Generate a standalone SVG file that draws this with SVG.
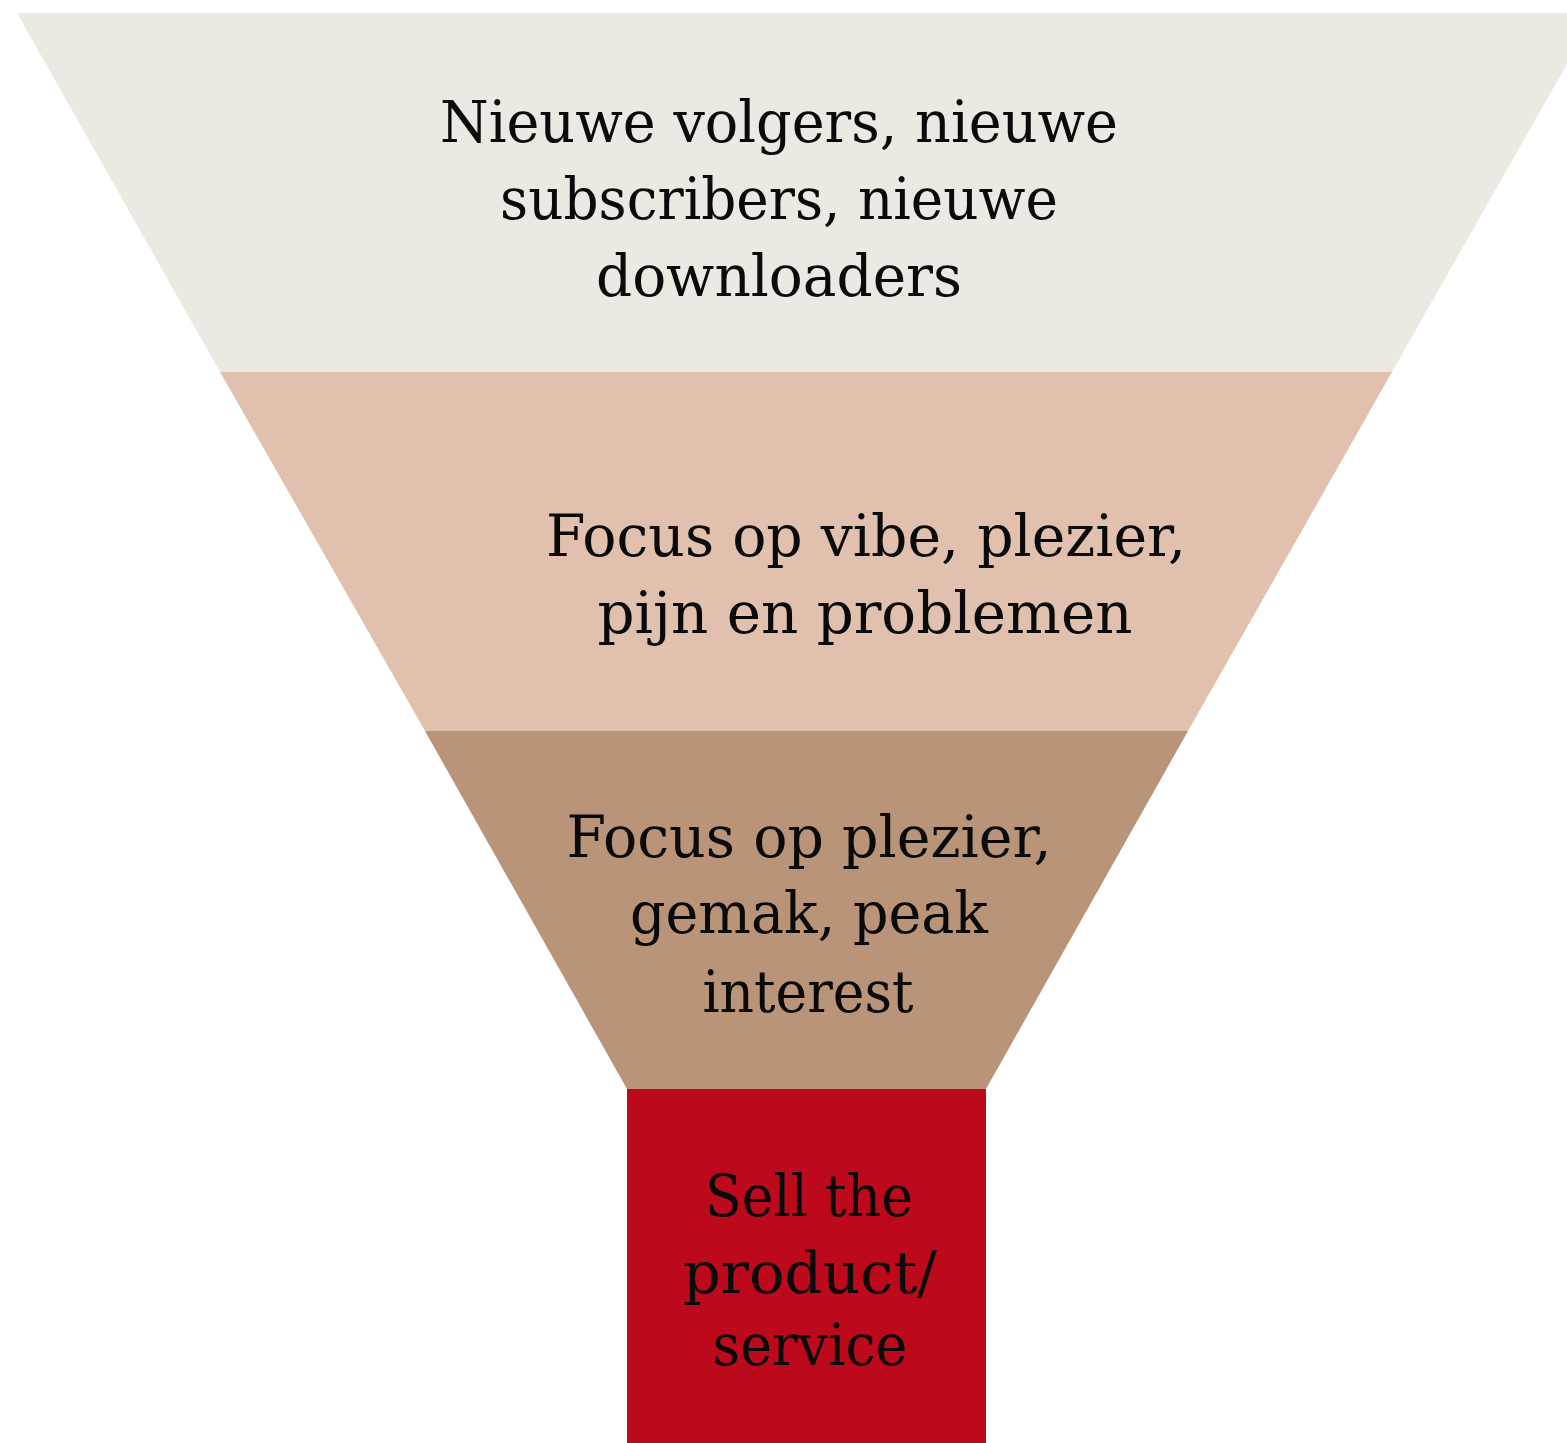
<svg xmlns="http://www.w3.org/2000/svg" width="1567" height="1443" viewBox="0 0 1567 1443">
<style>
text{font-family:"DejaVu Serif","Liberation Serif",serif;font-size:58px;fill:#0a0a0a;text-anchor:middle}
</style>
<rect width="1567" height="1443" fill="#ffffff"/>
<g id="stage1">
<polygon points="17,13 1596,13 1392,372 220,372" fill="#ECE9E2"/>
<text x="779" y="142" textLength="678" lengthAdjust="spacingAndGlyphs">Nieuwe volgers, nieuwe</text>
<text x="779" y="219" textLength="558" lengthAdjust="spacingAndGlyphs">subscribers, nieuwe</text>
<text x="779" y="296" textLength="366" lengthAdjust="spacingAndGlyphs">downloaders</text>
</g>
<g id="stage2">
<polygon points="220,372 1392,372 1188,731 425,731" fill="#E1C1AD"/>
<text x="866" y="556" textLength="640" lengthAdjust="spacingAndGlyphs">Focus op vibe, plezier,</text>
<text x="865" y="633" textLength="535" lengthAdjust="spacingAndGlyphs">pijn en problemen</text>
</g>
<g id="stage3">
<polygon points="425,731 1188,731 986,1089 627,1089" fill="#B99478"/>
<text x="809" y="857" textLength="485" lengthAdjust="spacingAndGlyphs">Focus op plezier,</text>
<text x="809" y="933" textLength="358" lengthAdjust="spacingAndGlyphs">gemak, peak</text>
<text x="808" y="1012" textLength="211" lengthAdjust="spacingAndGlyphs">interest</text>
</g>
<g id="stage4">
<rect x="627" y="1089" width="359" height="354" fill="#BC0A1C"/>
<text x="809" y="1216" textLength="208" lengthAdjust="spacingAndGlyphs">Sell the</text>
<text x="810" y="1293" textLength="254" lengthAdjust="spacingAndGlyphs">product/</text>
<text x="810" y="1365" textLength="195" lengthAdjust="spacingAndGlyphs">service</text>
</g>
<g id="connectors"></g>
</svg>
